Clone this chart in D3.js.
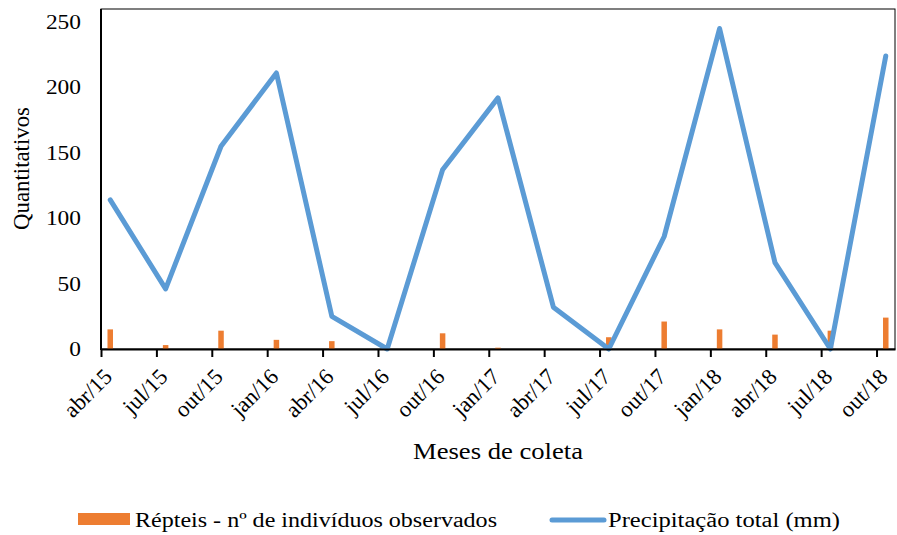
<!DOCTYPE html>
<html>
<head>
<meta charset="utf-8">
<script src="https://cdn.jsdelivr.net/npm/d3@7"></script>
<style>
  html, body { margin: 0; padding: 0; background: #fff; }
  svg text { font-family: "Liberation Serif", "Times New Roman", Times, serif; fill: #000; }
</style>
</head>
<body>
<svg id="chart" width="897" height="535"></svg>
<script>
// ---- data ----
const monthLabels = ["abr/15","jul/15","out/15","jan/16","abr/16","jul/16","out/16","jan/17","abr/17","jul/17","out/17","jan/18","abr/18","jul/18","out/18"];
const reptiles = [15, 3, 14, 7, 6, 0, 12, 1, 0, 9, 21, 15, 11, 14, 24];
const precipitation = [114, 46, 155, 211, 25, 0, 137, 192, 32, 0, 86, 245, 66, 0, 224];
const yTicks = [0, 50, 100, 150, 200, 250];
const seriesNames = ["Répteis - nº de indivíduos observados", "Precipitação total (mm)"];
const colors = { bar: "#ED7D31", line: "#5B9BD5" };

(function () {
  // ---- layout ----
  const svg = d3.select("#chart");
  const mLeft = 101, mRight = 895, mTop = 9, mBottom = 349;
  const monthStep = 3;               // labels every 3 months
  const totalMonths = monthLabels.length * monthStep - 2; // 43 month slots
  const x = d3.scaleLinear().domain([0, totalMonths]).range([mLeft, mRight]);
  const y = d3.scaleLinear().domain([0, 250]).range([mBottom, 22]);
  const idx = monthLabels.map((d, i) => i * monthStep);
  const cx = i => x(idx[i] + 0.5);

  // frame
  svg.append("rect")
    .attr("x", mLeft).attr("y", mTop)
    .attr("width", x(totalMonths) - mLeft).attr("height", mBottom - mTop)
    .attr("fill", "none").attr("stroke", "#000").attr("stroke-width", 1);

  // bars
  const barW = 5.5;
  svg.append("g").selectAll("rect").data(reptiles).join("rect")
    .attr("x", (d, i) => cx(i) - barW / 2)
    .attr("y", d => y(d))
    .attr("width", barW)
    .attr("height", d => y(0) - y(d))
    .attr("fill", colors.bar);

  // line
  const line = d3.line().x((d, i) => cx(i)).y(d => y(d));
  svg.append("path").datum(precipitation)
    .attr("d", line)
    .attr("fill", "none")
    .attr("stroke", colors.line)
    .attr("stroke-width", 5)
    .attr("stroke-linejoin", "round")
    .attr("stroke-linecap", "round");

  // x axis
  const xAxis = d3.axisBottom(x)
    .tickValues(idx)
    .tickFormat((d, i) => monthLabels[i])
    .tickSize(8)
    .tickSizeOuter(0);
  const gx = svg.append("g").attr("transform", `translate(0,${mBottom})`).call(xAxis);
  gx.select(".domain").attr("stroke", "#000").attr("stroke-width", 2);
  gx.selectAll(".tick line").attr("stroke", "#000").attr("stroke-width", 2);
  gx.selectAll(".tick text")
    .attr("font-size", 22.5)
    .attr("text-anchor", "end")
    .attr("x", 0).attr("y", 0).attr("dy", 0)
    .attr("transform", "translate(12,29) rotate(-45)");

  // y axis
  const yAxis = d3.axisLeft(y).tickValues(yTicks).tickSize(0).tickSizeOuter(0).tickPadding(20);
  const gy = svg.append("g").attr("transform", `translate(${mLeft},0)`).call(yAxis);
  gy.select(".domain").remove();
  gy.selectAll(".tick text").attr("font-size", 20).attr("class", "stretch");
  svg.append("line")
    .attr("x1", mLeft).attr("x2", mLeft).attr("y1", mTop).attr("y2", mBottom + 1)
    .attr("stroke", "#000").attr("stroke-width", 2);

  // axis titles
  svg.append("text")
    .attr("x", 413).attr("y", 459)
    .attr("font-size", 23.5)
    .attr("textLength", 170).attr("lengthAdjust", "spacingAndGlyphs")
    .text("Meses de coleta");
  svg.append("text")
    .attr("transform", "translate(29,230) rotate(-90)")
    .attr("font-size", 23.5)
    .attr("textLength", 123).attr("lengthAdjust", "spacingAndGlyphs")
    .text("Quantitativos");

  // legend
  svg.append("rect").attr("x", 78).attr("y", 513).attr("width", 52).attr("height", 12).attr("fill", colors.bar);
  svg.append("text").attr("x", 135).attr("y", 527).attr("font-size", 20.5)
    .attr("textLength", 362).attr("lengthAdjust", "spacingAndGlyphs")
    .text(seriesNames[0]);
  svg.append("line").attr("x1", 552).attr("x2", 604).attr("y1", 520).attr("y2", 520)
    .attr("stroke", colors.line).attr("stroke-width", 5).attr("stroke-linecap", "round");
  svg.append("text").attr("x", 608).attr("y", 527).attr("font-size", 20.5)
    .attr("textLength", 232).attr("lengthAdjust", "spacingAndGlyphs")
    .text(seriesNames[1]);

  // horizontal stretch of tick labels (source image is widened)
  svg.selectAll("text.stretch").each(function () {
    const len = this.getComputedTextLength();
    this.setAttribute("textLength", len * 1.17);
    this.setAttribute("lengthAdjust", "spacingAndGlyphs");
  });
})();
</script>
</body>
</html>
